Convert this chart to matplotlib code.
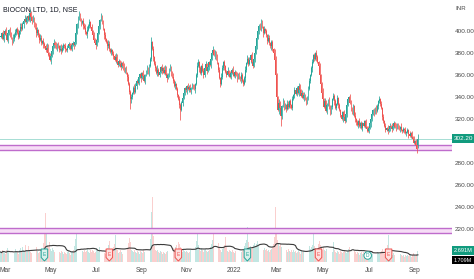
import matplotlib
matplotlib.use("Agg")
import matplotlib.pyplot as plt
import matplotlib.transforms as mtransforms
from matplotlib.patches import Polygon, Ellipse
import numpy as np
import pandas as pd

plt.rcParams['font.family'] = ['Liberation Sans Narrow', 'Liberation Sans', 'DejaVu Sans']

# daily closes, BIOCON (NSE), late Feb 2021 -> early Sep 2022
close = [
    395, 398, 393, 397, 400, 396, 392, 398, 401, 397, 394,
    390, 393, 396, 399, 402, 398, 395, 400, 404, 402,
    406, 409, 411, 408, 412, 414, 410, 416, 413, 409,
    412, 406, 403, 398, 401, 396, 392, 394, 389, 391,
    388, 386, 383, 385, 380, 378, 374, 377, 382, 386,
    389, 387, 385, 388, 386, 383, 384, 382, 385, 387,
    386, 384, 383, 385, 388, 386, 384, 387, 389, 387,
    390, 398, 406, 412, 415, 410, 407, 409, 405, 403,
    399, 397, 401, 405, 408, 404, 400, 396, 392, 389,
    387, 392, 398, 405, 410, 413, 408, 402, 396, 393,
    390, 386, 388, 384, 381, 383, 379, 377, 374, 376,
    372, 369, 373, 370, 367, 371, 368, 364, 366, 362,
    358, 352, 345, 338, 340, 344, 348, 345, 350, 355,
    353, 358, 361, 357, 362, 359, 355, 360, 363, 366,
    362, 368, 375, 390, 384, 376, 370, 366, 362, 365,
    360, 363, 367, 364, 366, 362, 365, 361, 357, 360,
    365, 367, 362, 358, 355, 350, 352, 347, 342, 338,
    333, 328, 335, 339, 344, 348, 346, 350, 347, 349,
    346, 348, 351, 349, 347, 352, 360, 368, 372, 366,
    362, 368, 364, 360, 366, 370, 364, 367, 372, 369,
    375, 380, 383, 378, 381, 376, 371, 365, 357, 352,
    358, 366, 372, 368, 363, 360, 364, 361, 358, 362,
    365, 362, 359, 363, 360, 357, 361, 358, 356, 360,
    355, 352, 357, 365, 371, 375, 370, 374, 378, 372,
    368, 375, 380, 386, 394, 400, 405, 402, 408, 404,
    398, 402, 400, 396, 391, 394, 389, 386, 390, 384,
    380, 374, 360, 340, 328, 335, 330, 323, 332, 336,
    330, 333, 329, 334, 331, 336, 333, 330, 338, 342,
    346, 343, 348, 344, 350, 346, 341, 344, 339, 342,
    338, 335, 340, 347, 355, 360, 366, 372, 378, 375,
    380, 376, 372, 368, 360, 352, 344, 338, 331, 336,
    327, 333, 337, 332, 326, 331, 338, 341, 336, 330,
    334, 339, 333, 328, 324, 320, 326, 322, 318, 325,
    333, 338, 340, 335, 330, 326, 332, 323, 320, 317,
    315, 318, 314, 316, 312, 316, 314, 318, 313, 311,
    309, 312, 316, 320, 325, 328, 326, 330, 327, 332,
    336, 338, 334, 330, 322, 318, 314, 310, 312, 309,
    311, 314, 313, 311, 314, 316, 313, 312, 315, 313,
    311, 313, 310, 309, 311, 310, 307, 308, 310, 306,
    305, 307, 304, 302, 298, 300, 296, 293, 302.2,
]

# wick length above / below the body, one digit per candle
upper_wick = (
    "21312423132142312413" "32143213421312431232" "13224312531423121342"
    "21312213121321231213" "23141312132431213221" "31243121324312131231"
    "21321312431321213212" "31215121324121312431" "21312413121321231213"
    "23121312431213213121" "32131213121431212313" "21312131213212313121"
    "31213141232131213212" "21432131213121321213" "13121321213121321231"
    "21321312413121312132" "21312131213121321213" "12131213121312131213"
    "21312131213121312131" "12131213121312131214"
)
lower_wick = (
    "12131213221312131213" "21312131213121321312" "13121321413121312131"
    "21312131213121321213" "12131213121312131213" "21312131213121321312"
    "13129321213121312131" "21312131213121321213" "12131213121391312131"
    "21312131213121321312" "13121321213121312131" "21312131213121321213"
    "12131213121312131213" "21312131931213121312" "13121321213121312131"
    "21312131213121321213" "12131213121312131213" "21312131213121321312"
    "13121321213121312131" "21312131213121312142"
)

# daily volume in millions
volume = [
    2.4, 2.1, 3.0, 2.6, 2.2, 1.9, 2.8, 3.4, 2.5, 2.0, 2.3, 2.7, 1.8, 2.2, 3.1, 2.6, 2.4, 2.0, 2.9, 3.3,
    2.7, 3.5, 2.8, 2.3, 4.1, 3.0, 2.6, 3.8, 2.9, 2.4, 2.2, 3.1, 2.5, 2.8, 3.6, 2.7, 2.1, 2.4, 3.0, 2.6,
    3.2, 4.5, 6.8, 11.8, 7.2, 4.0, 3.5, 4.8, 3.1, 2.7, 3.3, 2.9, 2.5, 2.2, 2.8, 3.0, 2.4, 2.1, 2.6, 2.3,
    2.0, 2.5, 2.2, 1.9, 2.4, 2.7, 2.1, 1.8, 2.3, 2.6, 2.9, 3.8, 5.5, 7.7, 4.6, 3.2, 2.8, 3.5, 2.6, 2.4,
    2.9, 2.3, 2.7, 3.1, 2.5, 2.2, 2.8, 2.4, 3.0, 2.6, 2.1, 2.5, 3.3, 2.8, 2.4, 3.6, 2.7, 2.3, 2.5, 2.2,
    2.0, 2.6, 3.4, 4.2, 5.0, 3.1, 2.7, 2.4, 3.5, 4.4, 6.5, 3.3, 2.8, 2.2, 2.5, 2.9, 2.3, 2.0, 2.6, 2.4,
    2.8, 3.4, 4.6, 5.8, 4.8, 3.0, 2.6, 2.3, 2.9, 2.5, 2.2, 2.7, 2.4, 2.0, 2.6, 2.3, 2.1, 2.8, 2.5, 3.0,
    2.7, 3.2, 4.0, 5.6, 12.0, 15.6, 6.2, 3.8, 3.0, 2.6, 2.9, 2.4, 2.2, 2.7, 2.3, 2.0, 2.5, 2.2, 1.9, 2.4,
    2.6, 2.3, 2.8, 3.1, 2.5, 3.4, 2.9, 3.6, 4.1, 3.2, 4.9, 4.4, 3.6, 2.8, 2.5, 3.0, 2.6, 2.3, 2.7, 2.4,
    2.1, 2.5, 2.9, 2.3, 2.6, 3.0, 3.7, 5.0, 7.0, 4.2, 3.1, 2.7, 3.3, 2.8, 2.4, 2.9, 3.2, 2.6, 2.3, 2.7,
    3.0, 3.6, 4.3, 5.2, 7.0, 4.0, 3.2, 3.8, 4.5, 3.4, 2.8, 2.5, 3.1, 3.6, 4.2, 6.0, 3.5, 2.7, 2.4, 2.9,
    2.6, 2.3, 2.8, 2.5, 2.2, 2.7, 2.4, 2.1, 2.6, 2.9, 2.3, 2.7, 3.2, 3.9, 4.6, 5.3, 8.4, 4.8, 3.6, 3.9,
    3.1, 3.5, 4.0, 4.6, 3.8, 4.3, 5.0, 4.2, 6.0, 3.6, 3.3, 2.9, 3.4, 2.8, 3.1, 2.6, 2.9, 2.4, 2.8, 3.2,
    3.6, 4.4, 5.9, 13.2, 8.1, 5.2, 4.6, 3.9, 4.4, 3.5, 3.0, 3.3, 2.7, 2.9, 2.5, 3.1, 2.6, 2.3, 2.8, 2.5,
    2.9, 2.4, 2.7, 2.2, 2.5, 2.8, 2.3, 2.0, 2.6, 2.4, 2.7, 2.1, 2.5, 2.9, 3.4, 3.8, 3.1, 3.6, 4.2, 7.0,
    3.9, 3.3, 2.8, 3.2, 4.4, 5.1, 4.0, 3.5, 3.0, 3.6, 2.9, 2.6, 3.1, 2.7, 2.4, 2.8, 3.3, 2.5, 4.8, 2.9,
    2.5, 2.2, 2.7, 2.4, 2.0, 2.6, 2.3, 2.1, 2.5, 2.9, 2.4, 2.2, 2.6, 3.1, 3.5, 3.0, 7.0, 3.4, 2.7, 2.3,
    2.0, 2.4, 2.1, 1.8, 2.2, 2.5, 1.9, 2.3, 2.0, 1.7, 2.1, 2.4, 2.2, 1.9, 2.6, 2.3, 2.0, 2.8, 2.4, 2.1,
    2.5, 2.2, 1.9, 2.3, 2.7, 3.1, 2.4, 2.0, 2.6, 3.3, 4.0, 6.5, 3.2, 2.3, 2.0, 1.8, 2.1, 1.7, 1.9, 1.6,
    1.8, 1.5, 1.9, 1.7, 1.4, 1.6, 1.3, 1.8, 1.5, 1.7, 1.4, 1.9, 1.6, 1.3, 1.8, 2.2, 1.7, 1.5, 2.0, 2.691,
]

month_labels = ['Mar', 'May', 'Jul', 'Sep', 'Nov', '2022', 'Mar', 'May', 'Jul', 'Sep']
price_ticks = [400, 380, 360, 340, 320, 280, 260, 240, 220]

# horizontal zones drawn on the chart (price levels)
zone_upper = (291.8, 296.4)
zone_lower = (216.5, 221.0)
last_price = 302.2
vol_ma_last = 1.709

# earnings / dividend flags on the time axis (candle index)
event_idx = [42, 104, 170, 236, 304, 351, 371]
event_kind = ['E', 'E', 'E', 'E', 'E', 'D', 'E']
event_col = ['g', 'r', 'r', 'g', 'r', 'g', 'r']

GREEN = '#26a69a'
RED = '#ef5350'
MAGENTA = '#bf6ccc'

n = len(close)
assert len(upper_wick) == n and len(lower_wick) == n and len(volume) == n
dates = pd.bdate_range('2021-02-24', periods=n)
x = np.arange(n)
c = np.array(close, dtype=float)
o = np.r_[c[0], c[:-1]]
o[-1] = 296.0
hi = np.maximum(o, c) + np.array([int(d) for d in upper_wick])
lo = np.minimum(o, c) - np.array([int(d) for d in lower_wick])
up = c >= o
cols = np.where(up, GREEN, RED)
vol = np.array(volume)
vol_ma = pd.Series(vol).rolling(20, min_periods=1).mean()


def py(ypix):
    # pixel row -> price on this chart's scale
    return 400 - (ypix - 31) / 1.1


fig = plt.figure(figsize=(4.74, 2.79), dpi=100)
fig.patch.set_facecolor('white')
ax = fig.add_axes([0, 17 / 279, 452 / 474, 262 / 279])
axv = ax.twinx()
ax.set_zorder(axv.get_zorder() + 1)
ax.patch.set_visible(False)

# volume + MA
axv.bar(x, vol, width=0.8, color=[GREEN if u else RED for u in up], alpha=0.28, lw=0)
axv.plot(x, vol_ma, color='#3a3a3a', lw=0.8)
axv.set_ylim(0, 62.9)

# zones
for lo_z, hi_z in (zone_upper, zone_lower):
    ax.axhspan(lo_z, hi_z, color='#f6ddf6', lw=0, zorder=1)
    ax.axhline(lo_z, color=MAGENTA, lw=1.0, zorder=2)
    ax.axhline(hi_z, color=MAGENTA, lw=1.0, zorder=2)
ax.axhline(last_price, color='#a6ddd4', lw=0.7, zorder=2)

# candles
ax.vlines(x, lo, hi, colors=cols, lw=0.55, zorder=3)
ax.bar(x, np.maximum(np.abs(c - o), 0.5), bottom=np.minimum(o, c), width=0.8,
       color=cols, lw=0, zorder=4)

ax.set_xlim(-0.5, 431.6)
ax.set_ylim(190.0, 428.2)

for a in (ax, axv):
    for s in a.spines.values():
        s.set_visible(False)
    a.set_xticks([])
    a.set_yticks([])

# event flags
w = 6.5 / 1.046
for i, k, cc in zip(event_idx, event_kind, event_col):
    edge = GREEN if cc == 'g' else RED
    face = '#d8f1eb' if cc == 'g' else '#fde0df'
    if k == 'D':
        ax.add_patch(Ellipse((i, py(255.5)), 7.5 / 1.046, 7.5 / 1.1, fc='white', ec=edge, lw=0.7, zorder=6))
        ax.text(i, py(255.5), k, color=edge, fontsize=3.5, ha='center', va='center', zorder=7)
    else:
        pts = [(i - w / 2, py(249)), (i + w / 2, py(249)), (i + w / 2, py(257.5)),
               (i, py(261)), (i - w / 2, py(257.5))]
        ax.add_patch(Polygon(pts, closed=True, fc=face, ec=edge, lw=0.7, zorder=6))
        ax.text(i, py(254), k, color=edge, fontsize=3.5, ha='center', va='center', zorder=7)

# x labels at first trading day of every second month
tick_pos = [i for i in range(1, n) if dates[i].month != dates[i - 1].month and dates[i].month % 2 == 1]
tx = mtransforms.blended_transform_factory(ax.transData, ax.transAxes)
for j, (p, lab) in enumerate(zip(tick_pos, month_labels)):
    # first label would be cut at the left edge, so anchor it there
    ha = 'left' if j == 0 else 'center'
    xp = -0.5 if j == 0 else p
    ax.text(xp, -8 / 262, lab, transform=tx, fontsize=4.8, color='#4a4a4a', ha=ha, va='center')

# right price scale
ty = mtransforms.blended_transform_factory(ax.transAxes, ax.transData)
for v in price_ticks:
    ax.text(455 / 452, v, f'{v:.2f}', transform=ty, fontsize=4.6, color='#4a4a4a',
            ha='left', va='center', clip_on=False)
ax.text(455 / 452, py(8), 'INR', transform=ty, fontsize=4.4, color='#4a4a4a', ha='left', va='center')
ax.text(454 / 452, last_price, f'{last_price:.2f}', transform=ty, fontsize=4.6, color='white',
        ha='left', va='center', bbox=dict(boxstyle='square,pad=0.35', fc='#119b7e', ec='none'))

tyv = mtransforms.blended_transform_factory(axv.transAxes, axv.transData)
axv.text(454 / 452, vol[-1], f'{vol[-1]:.3f}M', transform=tyv, fontsize=4.1, color='white',
         ha='left', va='center', zorder=10,
         bbox=dict(boxstyle='square,pad=0.35', fc='#119b7e', ec='none'))
axv.text(454 / 452, 0.4, f'{vol_ma_last:.3f}M', transform=tyv, fontsize=3.9, color='white',
         ha='left', va='center', zorder=9,
         bbox=dict(boxstyle='square,pad=0.3', fc='black', ec='none'))

ax.text(3 / 452, py(10), 'BIOCON LTD, 1D, NSE', transform=ty, fontsize=5, color='#131722',
        ha='left', va='center')

fig.savefig('out.png', dpi=100, facecolor='white')
